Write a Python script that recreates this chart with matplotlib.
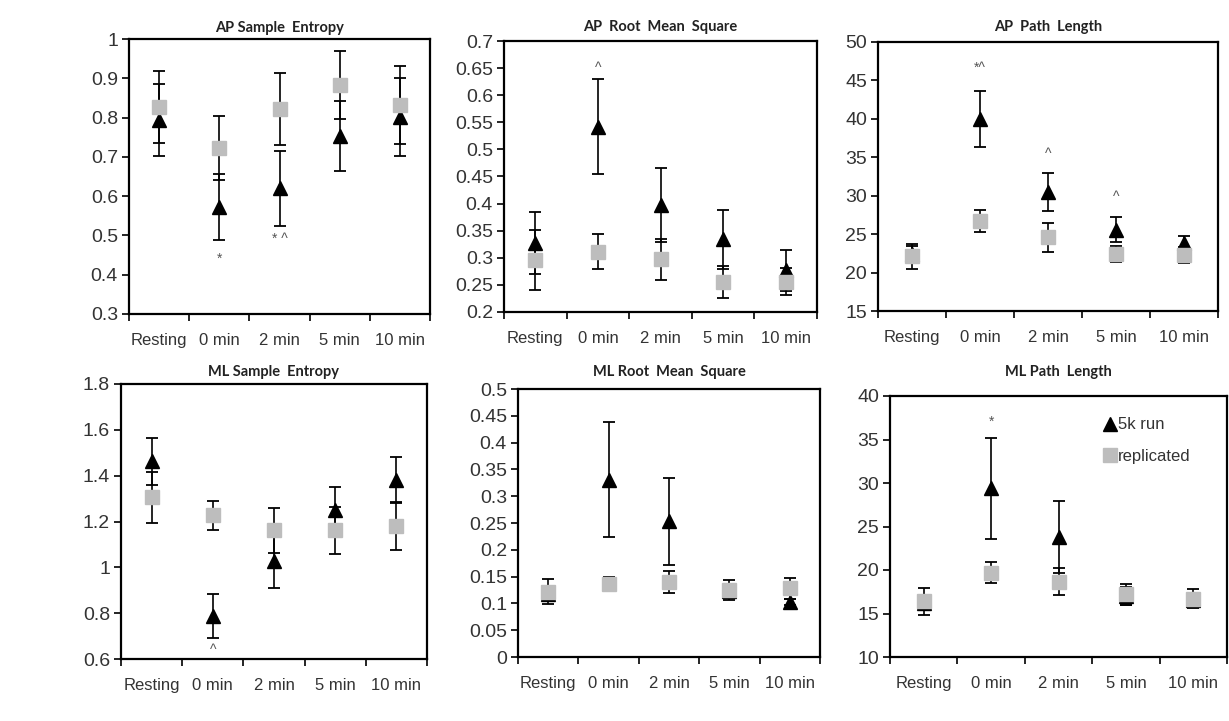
import numpy as np
import matplotlib.pyplot as plt
from matplotlib.lines import Line2D

W, H = 1229, 721

categories = ['Resting', '0 min', '2 min', '5 min', '10 min']
series_labels = ['5k run', 'replicated']

# AP Sample Entropy
ap_sampen_run = [0.793, 0.573, 0.620, 0.753, 0.802]
ap_sampen_run_err = [0.092, 0.084, 0.095, 0.088, 0.099]
ap_sampen_rep = [0.826, 0.722, 0.822, 0.883, 0.832]
ap_sampen_rep_err = [0.092, 0.082, 0.092, 0.086, 0.099]

# AP Root Mean Square
ap_rms_run = [0.327, 0.542, 0.397, 0.334, 0.277]
ap_rms_run_err = [0.057, 0.088, 0.068, 0.055, 0.038]
ap_rms_rep = [0.296, 0.311, 0.297, 0.255, 0.256]
ap_rms_rep_err = [0.056, 0.032, 0.038, 0.029, 0.025]

# AP Path Length
ap_path_run = [22.4, 40.0, 30.5, 25.6, 23.8]
ap_path_run_err = [1.1, 3.6, 2.5, 1.6, 1.0]
ap_path_rep = [22.1, 26.7, 24.6, 22.4, 22.3]
ap_path_rep_err = [1.65, 1.45, 1.9, 1.0, 1.0]

# ML Sample Entropy
ml_sampen_run = [1.463, 0.789, 1.026, 1.252, 1.383]
ml_sampen_run_err = [0.102, 0.096, 0.116, 0.10, 0.099]
ml_sampen_rep = [1.305, 1.227, 1.162, 1.162, 1.179]
ml_sampen_rep_err = [0.11, 0.064, 0.099, 0.102, 0.103]

# ML Root Mean Square
ml_rms_run = [0.118, 0.331, 0.253, 0.124, 0.103]
ml_rms_run_err = [0.009, 0.108, 0.081, 0.012, 0.006]
ml_rms_rep = [0.122, 0.137, 0.140, 0.125, 0.128]
ml_rms_rep_err = [0.0235, 0.012, 0.021, 0.019, 0.019]

# ML Path Length
ml_path_run = [16.2, 29.4, 23.8, 17.0, 16.6]
ml_path_run_err = [0.6, 5.8, 4.1, 1.0, 0.8]
ml_path_rep = [16.4, 19.7, 18.65, 17.2, 16.7]
ml_path_rep_err = [1.55, 1.2, 1.55, 1.2, 1.1]

# significance marks: (category index, value, text)
ap_sampen_marks = [(1, 0.44, '*'), (2, 0.49, '* ^')]
ap_rms_marks = [(1, 0.65, '^')]
ap_path_marks = [(1, 46.6, '*^'), (2, 35.4, '^'), (3, 29.8, '^')]
ml_sampen_marks = [(1, 0.64, '^')]
ml_rms_marks = []
ml_path_marks = [(1, 37.0, '*')]

panels = [
    dict(title='AP Sample  Entropy', run=ap_sampen_run, run_err=ap_sampen_run_err,
         rep=ap_sampen_rep, rep_err=ap_sampen_rep_err, marks=ap_sampen_marks,
         ylim=(0.3, 1.0), step=0.1, box=(129, 39, 430, 314), tpad=11),
    dict(title='AP  Root  Mean  Square', run=ap_rms_run, run_err=ap_rms_run_err,
         rep=ap_rms_rep, rep_err=ap_rms_rep_err, marks=ap_rms_marks,
         ylim=(0.2, 0.7), step=0.05, box=(504, 41, 817, 312), tpad=14),
    dict(title='AP  Path  Length', run=ap_path_run, run_err=ap_path_run_err,
         rep=ap_path_rep, rep_err=ap_path_rep_err, marks=ap_path_marks,
         ylim=(15, 50), step=5, box=(878, 42, 1218, 311), tpad=15),
    dict(title='ML Sample  Entropy', run=ml_sampen_run, run_err=ml_sampen_run_err,
         rep=ml_sampen_rep, rep_err=ml_sampen_rep_err, marks=ml_sampen_marks,
         ylim=(0.6, 1.8), step=0.2, box=(121, 384, 427, 659), tpad=12),
    dict(title='ML Root  Mean  Square', run=ml_rms_run, run_err=ml_rms_run_err,
         rep=ml_rms_rep, rep_err=ml_rms_rep_err, marks=ml_rms_marks,
         ylim=(0.0, 0.5), step=0.05, box=(518, 389, 820, 657), tpad=17),
    dict(title='ML Path  Length', run=ml_path_run, run_err=ml_path_run_err,
         rep=ml_path_rep, rep_err=ml_path_rep_err, marks=ml_path_marks,
         ylim=(10, 40), step=5, box=(890, 396, 1227, 657), tpad=24),
]

TICK_FONT = 'Liberation Sans'
TITLE_FONT = 'Lato'
GREY = '#bdbdbd'


def px_rect(l, t, r, b):
    return [l / W, (H - b) / H, (r - l) / W, (b - t) / H]


fig = plt.figure(figsize=(W / 100, H / 100), dpi=100)
fig.patch.set_facecolor('white')

for i, p in enumerate(panels):
    ax = fig.add_axes(px_rect(*p['box']))
    x = np.arange(len(categories)) + 0.5

    ax.errorbar(x, p['run'], yerr=p['run_err'], fmt='^', ms=10.5,
                color='black', ecolor='black', elinewidth=1.2,
                capsize=4, capthick=1.3, zorder=3)
    ax.errorbar(x, p['rep'], yerr=p['rep_err'], fmt='s', ms=9.5,
                mfc=GREY, mec=GREY, ecolor='black', elinewidth=1.2,
                capsize=4, capthick=1.3, zorder=4)

    for ci, val, txt in p['marks']:
        ax.text(ci + 0.5, val, txt, ha='center', va='center', fontsize=10,
                color='#555555', family=TICK_FONT)

    lo, hi = p['ylim']
    ax.set_xlim(0, len(categories))
    ax.set_ylim(lo, hi)
    yt = np.round(np.arange(lo, hi + p['step'] / 2, p['step']), 3)
    ax.set_yticks(yt)
    ax.set_yticklabels(['{:g}'.format(v) for v in yt])
    ax.set_xticks(np.arange(len(categories) + 1))
    ax.set_xticklabels([])
    ax.set_xticks(x, minor=True)
    ax.set_xticklabels(categories, minor=True)

    ax.tick_params(axis='both', which='major', direction='out', length=5,
                   width=1.2, color='black', labelcolor='#333333')
    ax.tick_params(axis='y', pad=3, labelsize=14)
    ax.tick_params(axis='x', which='minor', length=0, pad=14,
                   labelsize=12, labelcolor='#333333')
    for lab in ax.get_xticklabels(minor=True) + ax.get_yticklabels():
        lab.set_family(TICK_FONT)

    for sp in ax.spines.values():
        sp.set_linewidth(1.6)
        sp.set_color('black')

    ax.annotate(p['title'], xy=(0.5, 1), xycoords='axes fraction',
                xytext=(0, p['tpad'] * 0.72), textcoords='offset points',
                ha='center', va='center', fontsize=10.5, fontweight='bold',
                family=TITLE_FONT, color='#222222')

    if i == 5:
        handles = [Line2D([], [], marker='^', ls='none', ms=10.5, color='black'),
                   Line2D([], [], marker='s', ls='none', ms=9.5,
                          mfc=GREY, mec=GREY)]
        leg = ax.legend(handles, series_labels, loc='upper left',
                        bbox_to_anchor=(0.61, 0.95), frameon=False,
                        handlelength=0.7, handletextpad=0.15,
                        labelspacing=1.0, borderpad=0,
                        prop={'family': TICK_FONT, 'size': 12})
        for t in leg.get_texts():
            t.set_color('#333333')

fig.savefig('out.png', dpi=100)
